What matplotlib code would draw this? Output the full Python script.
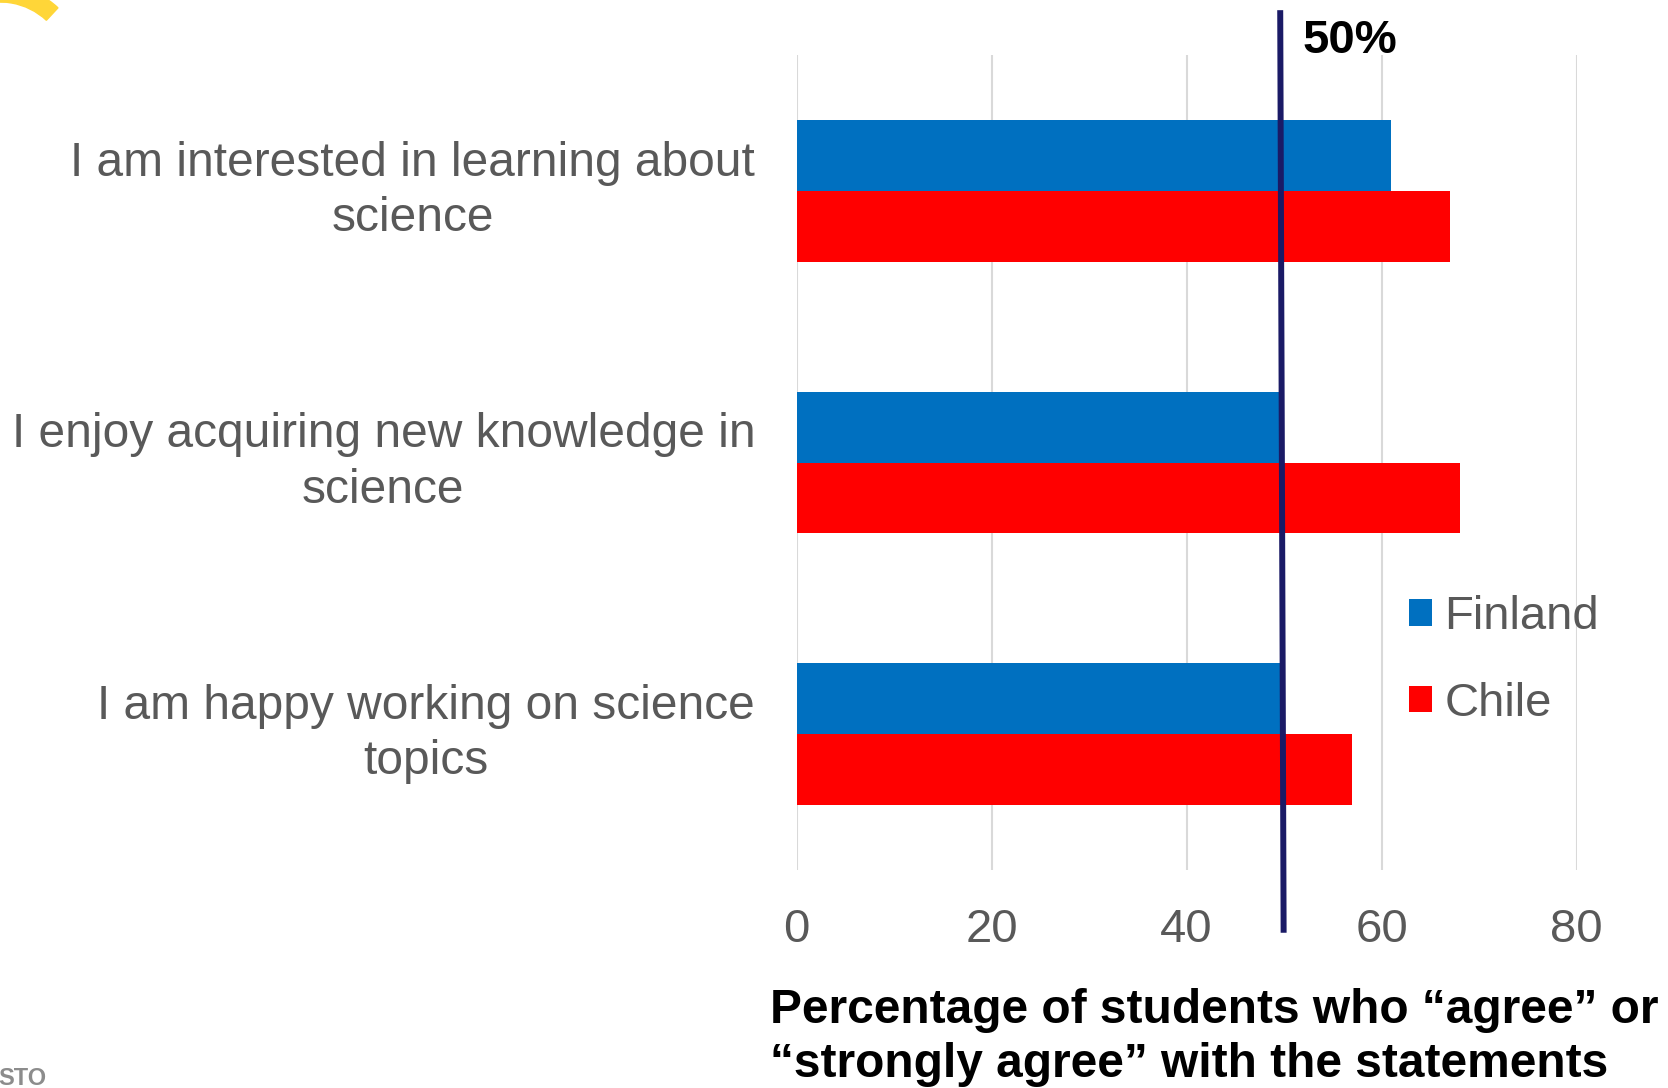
import matplotlib
matplotlib.use("Agg")
import matplotlib.pyplot as plt
from matplotlib.patches import Wedge
import numpy as np

plt.rcParams['font.family'] = ['Liberation Sans', 'DejaVu Sans']

# data
statements = ["I am interested in learning about\nscience",
              "I enjoy acquiring new knowledge in\nscience",
              "I am happy working on science\ntopics"]
finland = [61, 50, 50]
chile = [67, 68, 57]
countries = ["Finland", "Chile"]
colors = ["#0070C0", "#FF0000"]
x_ticks = [0, 20, 40, 60, 80]
ref_line_x = [49.6, 49.95]   # the "50%" line, leans slightly
ref_label = "50%"
x_label = "Percentage of students who \u201cagree\u201d or\n\u201cstrongly agree\u201d with the statements"

W, H = 1668, 1088
fig = plt.figure(figsize=(W / 100, H / 100), dpi=100)
ax = fig.add_axes([796.8 / W, 1 - 870 / H, 779.7 / W, 815 / H])

y = np.arange(len(statements))
h = 0.261
ax.barh(y - h / 2, finland, height=h, color=colors[0], label=countries[0], zorder=2)
ax.barh(y + h / 2, chile, height=h, color=colors[1], label=countries[1], zorder=2)

ax.set_xlim(0, 80)
ax.set_ylim(2.5, -0.5)
ax.set_xticks(x_ticks)
ax.xaxis.grid(True, color="#D9D9D9", linewidth=1.5, zorder=0)
ax.set_axisbelow(True)
for s in ax.spines.values():
    s.set_visible(False)
ax.tick_params(axis="x", length=0, pad=27, labelsize=34, labelcolor="#595959")
ax.tick_params(axis="y", length=0, pad=30, labelsize=34.5, labelcolor="#595959")
ax.set_yticks(y)
ax.set_yticklabels(statements, multialignment="center", linespacing=1.3, va="center")

# 50% reference line, runs past the plot area
ax.plot(ref_line_x, [1.055, -0.077], color="#1A1A66", linewidth=4.3,
        transform=ax.get_xaxis_transform(), clip_on=False, zorder=5,
        solid_capstyle="butt")
fig.text(1303 / W, 1 - 53 / H, ref_label, fontsize=34, fontweight="bold",
         color="black", va="baseline", ha="left")

fig.text(770 / W, 1 - 1076.7 / H, x_label, fontsize=34.5, fontweight="bold",
         color="black", va="baseline", ha="left", linespacing=1.25)

leg = ax.legend(loc="center left", bbox_to_anchor=(0.785, 0.2573),
                frameon=False, fontsize=34, labelcolor="#595959",
                handlelength=0.5, handleheight=0.5, handletextpad=0.25,
                labelspacing=0.91, borderpad=0, borderaxespad=0)

# bits of the slide around the chart
fig.patches.append(Wedge((0, H - 70), 85, 47, 180, width=17,
                         transform=None, color="#FFD638", zorder=0))
fig.text(-2 / W, 1 - 1085 / H, "STO", fontsize=17, fontweight="bold",
         color="#8C8C8C", va="baseline", ha="left")

fig.savefig("out.png", dpi=100)
